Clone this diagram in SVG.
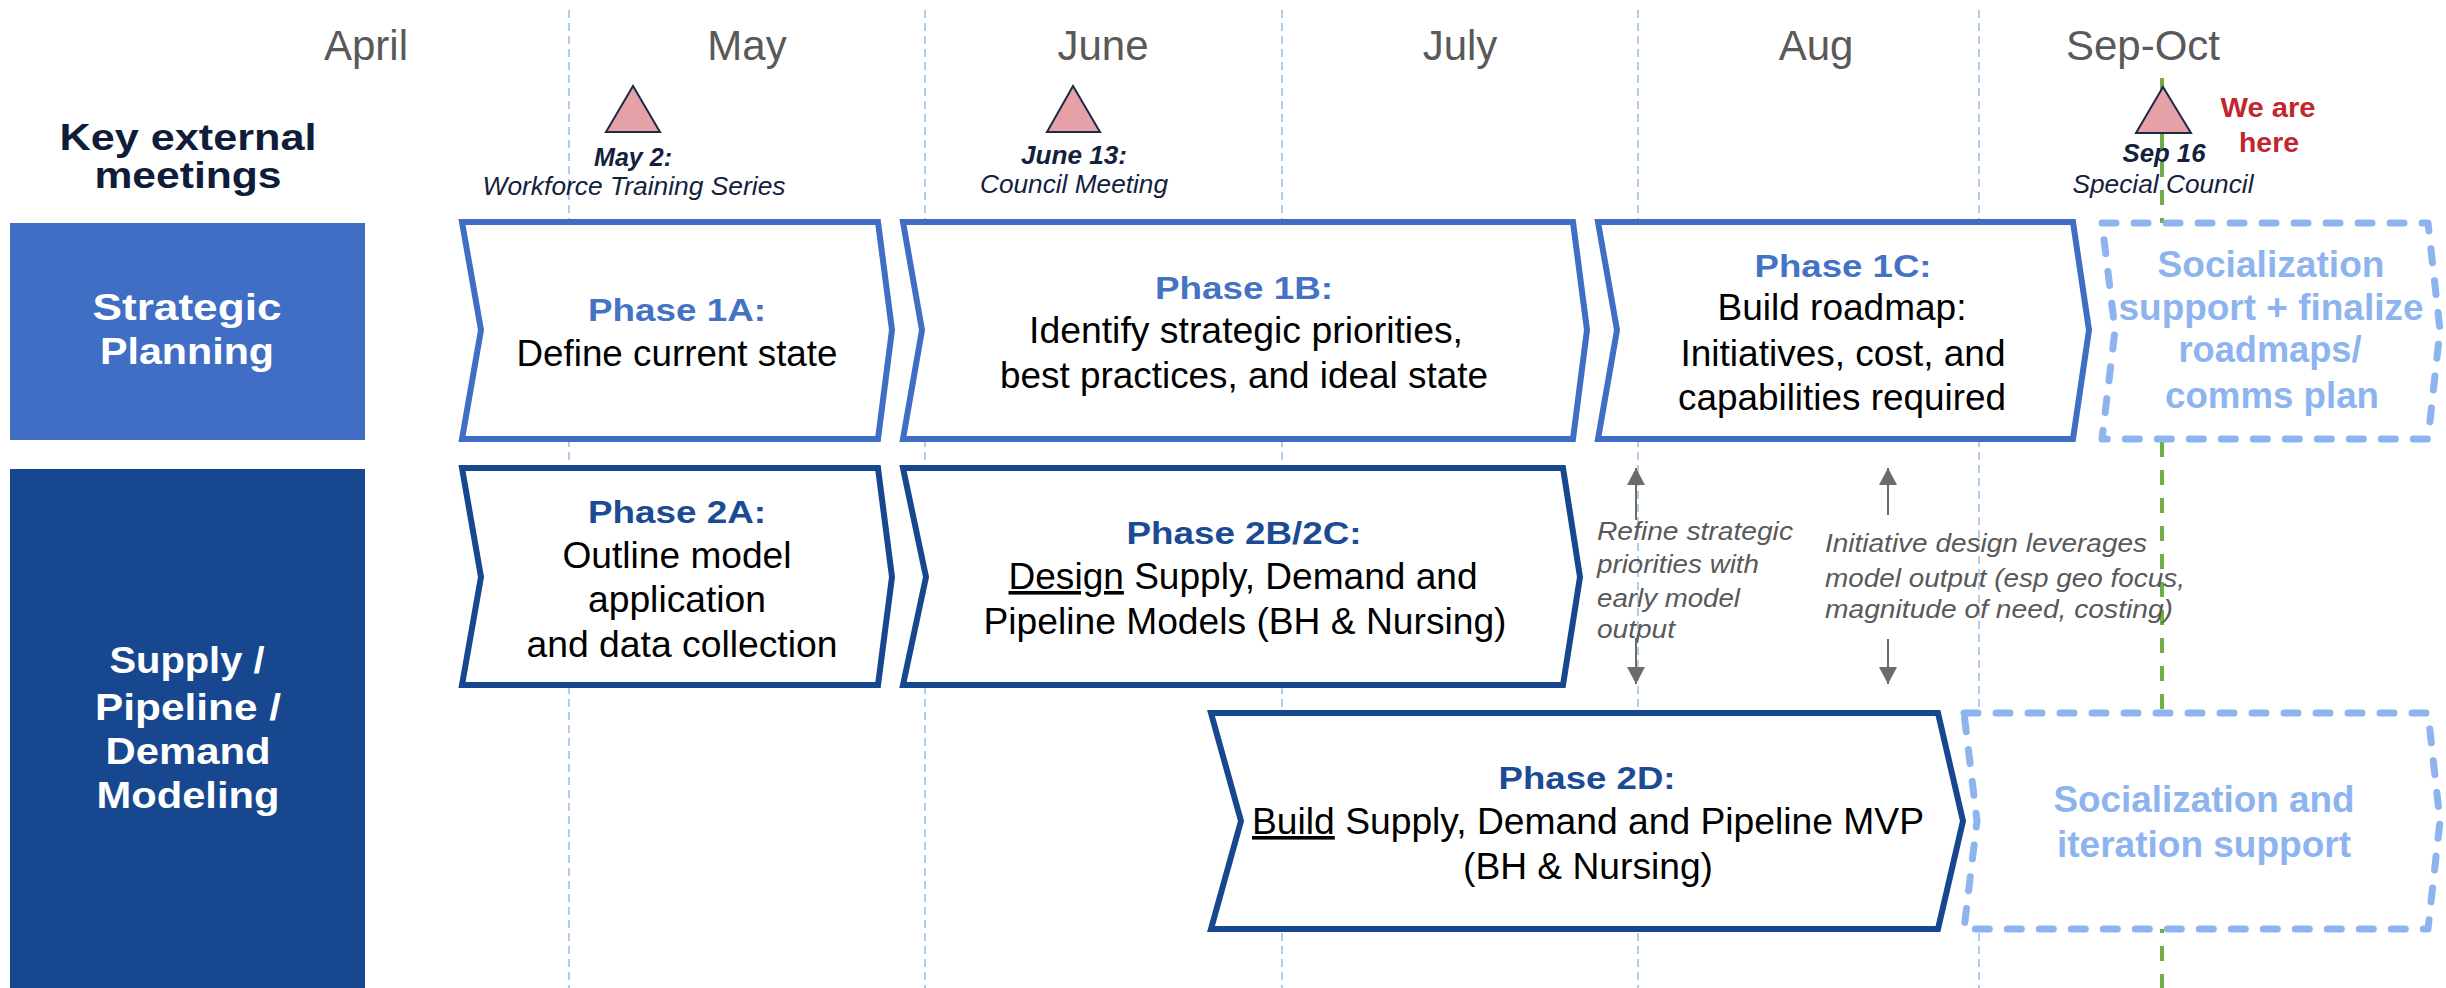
<svg xmlns="http://www.w3.org/2000/svg" width="2446" height="988" viewBox="0 0 2446 988">
<defs>
<style>
text{font-family:"Liberation Sans",Arial,sans-serif}
.month{font-size:42px;fill:#595959;text-anchor:middle}
.key{font-size:36px;font-weight:bold;fill:#0F1D3A;text-anchor:middle}
.row{font-size:36px;font-weight:bold;fill:#fff;text-anchor:middle}
.ph1{font-size:32px;font-weight:bold;fill:#4472C4;text-anchor:middle}
.ph2{font-size:32px;font-weight:bold;fill:#1B4B94;text-anchor:middle}
.body{font-size:36px;fill:#000;text-anchor:middle}
.soc{font-size:36px;font-weight:bold;fill:#8DB4EE;text-anchor:middle}
.note{font-size:25px;font-style:italic;fill:#595959}
.mdate{font-size:26px;font-weight:bold;font-style:italic;fill:#14213D;text-anchor:middle}
.mname{font-size:25px;font-style:italic;fill:#14213D;text-anchor:middle}
.here{font-size:27px;font-weight:bold;fill:#C0272D;text-anchor:middle}
.grid{stroke:#9DC3E6;stroke-width:1.6;stroke-dasharray:8 5;fill:none}
.b1{fill:#fff;stroke:#3F6EC4;stroke-width:6}
.b2{fill:#fff;stroke:#17478E;stroke-width:6}
.bd{fill:#fff;stroke:#8DB4EE;stroke-width:7;stroke-dasharray:14 18;stroke-linecap:round;stroke-linejoin:round}
.tri{fill:#E6A1A8;stroke:#1B2A47;stroke-width:2}
.arr{stroke:#6B6B6B;stroke-width:2;fill:none;marker-end:url(#ah)}
</style>
<marker id="ah" markerUnits="userSpaceOnUse" markerWidth="18" markerHeight="18" viewBox="0 0 17 18" refX="17" refY="9" orient="auto">
<path d="M0,0 L17,9 L0,18 z" fill="#6B6B6B"/>
</marker>
</defs>
<rect width="2446" height="988" fill="#fff"/>

<g id="grid">
<line class="grid" x1="569" y1="10" x2="569" y2="988"/>
<line class="grid" x1="925" y1="10" x2="925" y2="988"/>
<line class="grid" x1="1282" y1="10" x2="1282" y2="988"/>
<line class="grid" x1="1638" y1="10" x2="1638" y2="988"/>
<line class="grid" x1="1979" y1="10" x2="1979" y2="988"/>
</g>

<g id="months">
<text class="month" x="366" y="60">April</text>
<text class="month" x="747" y="60">May</text>
<text class="month" x="1103" y="60">June</text>
<text class="month" x="1460" y="60">July</text>
<text class="month" x="1816" y="60">Aug</text>
<text class="month" x="2143" y="60">Sep-Oct</text>
</g>

<g id="key-meetings-label">
<text class="key" x="188" y="150" textLength="257" lengthAdjust="spacingAndGlyphs">Key external</text>
<text class="key" x="188" y="188" textLength="187" lengthAdjust="spacingAndGlyphs">meetings</text>
</g>

<g id="row-strategic">
<rect x="10" y="223" width="355" height="217" fill="#3F6EC4"/>
<text class="row" x="187" y="320" textLength="189" lengthAdjust="spacingAndGlyphs">Strategic</text>
<text class="row" x="187" y="364" textLength="174" lengthAdjust="spacingAndGlyphs">Planning</text>
</g>

<g id="row-supply">
<rect x="10" y="469" width="355" height="519" fill="#17478E"/>
<text class="row" x="187" y="673" textLength="155" lengthAdjust="spacingAndGlyphs">Supply /</text>
<text class="row" x="188" y="720" textLength="186" lengthAdjust="spacingAndGlyphs">Pipeline /</text>
<text class="row" x="188" y="764" textLength="165" lengthAdjust="spacingAndGlyphs">Demand</text>
<text class="row" x="188" y="808" textLength="183" lengthAdjust="spacingAndGlyphs">Modeling</text>
</g>

<g id="today-line">
<line x1="2162" y1="78" x2="2162" y2="988" stroke="#70AD47" stroke-width="4" stroke-dasharray="15 13"/>
</g>

<g id="phase-1a">
<path class="b1" d="M462,222 L878,222 L892,330 L878,439 L462,439 L481,330 Z"/>
<text class="ph1" x="677" y="321" textLength="178" lengthAdjust="spacingAndGlyphs">Phase 1A:</text>
<text class="body" x="677" y="366" textLength="321" lengthAdjust="spacingAndGlyphs">Define current state</text>
</g>

<g id="phase-1b">
<path class="b1" d="M903,222 L1573,222 L1587,330 L1573,439 L903,439 L922,330 Z"/>
<text class="ph1" x="1244" y="299" textLength="178" lengthAdjust="spacingAndGlyphs">Phase 1B:</text>
<text class="body" x="1246" y="343" textLength="434" lengthAdjust="spacingAndGlyphs">Identify strategic priorities,</text>
<text class="body" x="1244" y="388" textLength="488" lengthAdjust="spacingAndGlyphs">best practices, and ideal state</text>
</g>

<g id="phase-1c">
<path class="b1" d="M1598,222 L2073,222 L2089,330 L2073,439 L1598,439 L1617,330 Z"/>
<text class="ph1" x="1843" y="277" textLength="177" lengthAdjust="spacingAndGlyphs">Phase 1C:</text>
<text class="body" x="1842" y="320" textLength="249" lengthAdjust="spacingAndGlyphs">Build roadmap:</text>
<text class="body" x="1843" y="366" textLength="325" lengthAdjust="spacingAndGlyphs">Initiatives, cost, and</text>
<text class="body" x="1842" y="410" textLength="328" lengthAdjust="spacingAndGlyphs">capabilities required</text>
</g>

<g id="socialization-1">
<path class="bd" d="M2102,223 L2428,223 L2440,330 L2428,439 L2102,439 L2115,330 Z"/>
<text class="soc" x="2271" y="277" textLength="227" lengthAdjust="spacingAndGlyphs">Socialization</text>
<text class="soc" x="2271" y="320" textLength="305" lengthAdjust="spacingAndGlyphs">support + finalize</text>
<text class="soc" x="2270" y="362" textLength="183" lengthAdjust="spacingAndGlyphs">roadmaps/</text>
<text class="soc" x="2272" y="408" textLength="214" lengthAdjust="spacingAndGlyphs">comms plan</text>
</g>

<g id="phase-2a">
<path class="b2" d="M462,468 L878,468 L892,577 L878,685 L462,685 L481,577 Z"/>
<text class="ph2" x="677" y="523" textLength="178" lengthAdjust="spacingAndGlyphs">Phase 2A:</text>
<text class="body" x="677" y="568" textLength="229" lengthAdjust="spacingAndGlyphs">Outline model</text>
<text class="body" x="677" y="612" textLength="178" lengthAdjust="spacingAndGlyphs">application</text>
<text class="body" x="682" y="657" textLength="311" lengthAdjust="spacingAndGlyphs">and data collection</text>
</g>

<g id="phase-2bc">
<path class="b2" d="M903,468 L1563,468 L1580,577 L1563,685 L903,685 L926,577 Z"/>
<text class="ph2" x="1244" y="544" textLength="235" lengthAdjust="spacingAndGlyphs">Phase 2B/2C:</text>
<text class="body" x="1243" y="589" textLength="469" lengthAdjust="spacingAndGlyphs"><tspan text-decoration="underline">Design</tspan> Supply, Demand and</text>
<text class="body" x="1245" y="634" textLength="523" lengthAdjust="spacingAndGlyphs">Pipeline Models (BH &amp; Nursing)</text>
</g>

<g id="phase-2d">
<path class="b2" d="M1211,713 L1938,713 L1963,821 L1938,929 L1211,929 L1241,821 Z"/>
<text class="ph2" x="1587" y="789" textLength="177" lengthAdjust="spacingAndGlyphs">Phase 2D:</text>
<text class="body" x="1588" y="834" textLength="672" lengthAdjust="spacingAndGlyphs"><tspan text-decoration="underline">Build</tspan> Supply, Demand and Pipeline MVP</text>
<text class="body" x="1588" y="879" textLength="250" lengthAdjust="spacingAndGlyphs">(BH &amp; Nursing)</text>
</g>

<g id="socialization-2">
<path class="bd" d="M1964,713 L2428,713 L2440,821 L2428,929 L1964,929 L1977,821 Z"/>
<text class="soc" x="2204" y="812" textLength="301" lengthAdjust="spacingAndGlyphs">Socialization and</text>
<text class="soc" x="2204" y="857" textLength="294" lengthAdjust="spacingAndGlyphs">iteration support</text>
</g>

<g id="note-refine">
<text class="note" x="1597" y="540" textLength="196" lengthAdjust="spacingAndGlyphs">Refine strategic</text>
<text class="note" x="1597" y="573" textLength="162" lengthAdjust="spacingAndGlyphs">priorities with</text>
<text class="note" x="1597" y="607" textLength="143" lengthAdjust="spacingAndGlyphs">early model</text>
<text class="note" x="1597" y="638" textLength="78" lengthAdjust="spacingAndGlyphs">output</text>
</g>

<g id="note-initiative">
<text class="note" x="1825" y="552" textLength="322" lengthAdjust="spacingAndGlyphs">Initiative design leverages</text>
<text class="note" x="1825" y="587" textLength="360" lengthAdjust="spacingAndGlyphs">model output (esp geo focus,</text>
<text class="note" x="1825" y="618" textLength="348" lengthAdjust="spacingAndGlyphs">magnitude of need, costing)</text>
</g>

<g id="connectors">
<line class="arr" x1="1636" y1="520" x2="1636" y2="468"/>
<line class="arr" x1="1636" y1="638" x2="1636" y2="684"/>
<line class="arr" x1="1888" y1="515" x2="1888" y2="468"/>
<line class="arr" x1="1888" y1="639" x2="1888" y2="684"/>
</g>

<g id="meeting-may">
<polygon class="tri" points="633,86 606,132 660,132"/>
<text class="mdate" x="633" y="166" textLength="78" lengthAdjust="spacingAndGlyphs">May 2:</text>
<text class="mname" x="634" y="195" textLength="303" lengthAdjust="spacingAndGlyphs">Workforce Training Series</text>
</g>

<g id="meeting-june">
<polygon class="tri" points="1073,86 1047,132 1100,132"/>
<text class="mdate" x="1074" y="164" textLength="106" lengthAdjust="spacingAndGlyphs">June 13:</text>
<text class="mname" x="1074" y="193" textLength="188" lengthAdjust="spacingAndGlyphs">Council Meeting</text>
</g>

<g id="meeting-sep">
<polygon class="tri" points="2163,87 2136,133 2191,133"/>
<text class="mdate" x="2164" y="162" textLength="83" lengthAdjust="spacingAndGlyphs">Sep 16</text>
<text class="mname" x="2163" y="193" textLength="181" lengthAdjust="spacingAndGlyphs">Special Council</text>
</g>

<g id="we-are-here">
<text class="here" x="2268" y="117" textLength="95" lengthAdjust="spacingAndGlyphs">We are</text>
<text class="here" x="2269" y="152" textLength="60" lengthAdjust="spacingAndGlyphs">here</text>
</g>
</svg>
